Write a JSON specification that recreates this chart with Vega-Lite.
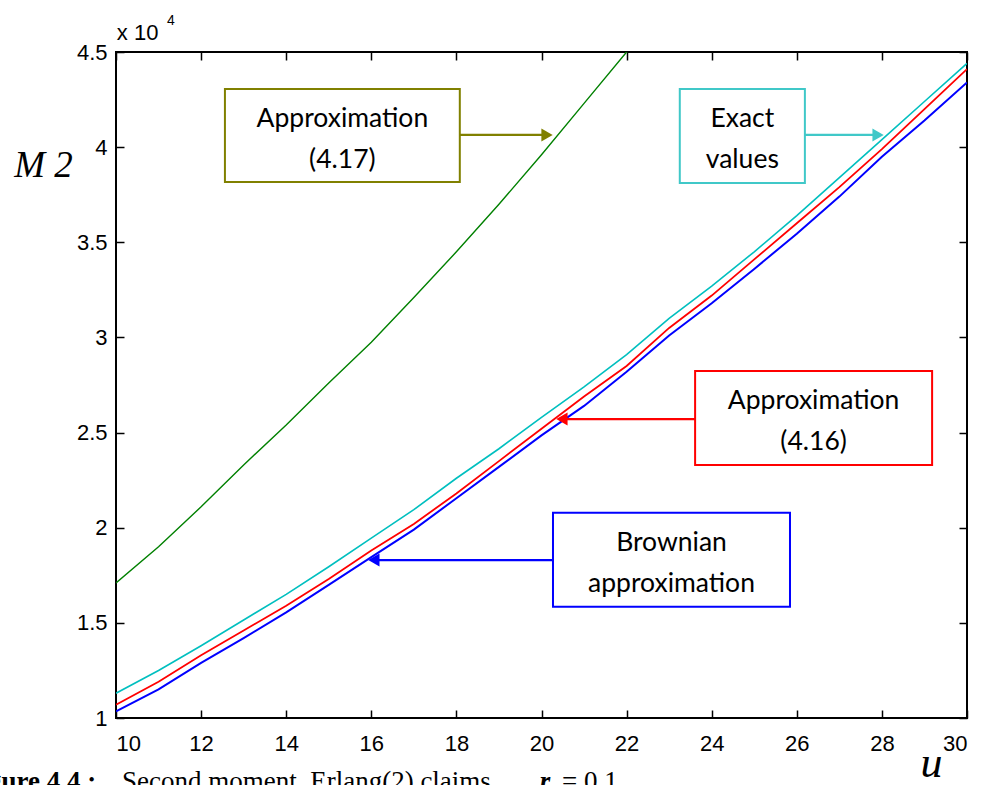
{
  "$schema": "https://vega.github.io/schema/vega-lite/v6.json",
  "width": 851,
  "height": 666,
  "autosize": {"type": "none"},
  "padding": {"left": 116, "top": 52, "right": 18, "bottom": 67},
  "background": "white",
  "config": {
    "view": {"stroke": "black", "strokeWidth": 2},
    "font": "Liberation Sans",
    "axis": {"grid": false, "domain": false, "tickColor": "black", "tickWidth": 1.5, "labelColor": "black", "labelFont": "Liberation Sans", "labelFontSize": 22}
  },
  "datasets": {
    "curves": [
      {"series": "Approximation (4.17)", "u": 10, "M2": 17100},
      {"series": "Approximation (4.17)", "u": 11, "M2": 19000},
      {"series": "Approximation (4.17)", "u": 12, "M2": 21100},
      {"series": "Approximation (4.17)", "u": 13, "M2": 23300},
      {"series": "Approximation (4.17)", "u": 14, "M2": 25400},
      {"series": "Approximation (4.17)", "u": 15, "M2": 27600},
      {"series": "Approximation (4.17)", "u": 16, "M2": 29750},
      {"series": "Approximation (4.17)", "u": 17, "M2": 32100},
      {"series": "Approximation (4.17)", "u": 18, "M2": 34500},
      {"series": "Approximation (4.17)", "u": 19, "M2": 37000},
      {"series": "Approximation (4.17)", "u": 20, "M2": 39600},
      {"series": "Approximation (4.17)", "u": 21, "M2": 42300},
      {"series": "Approximation (4.17)", "u": 22, "M2": 45000},
      {"series": "Approximation (4.17)", "u": 23, "M2": 47800},
      {"series": "Exact values", "u": 10, "M2": 11300},
      {"series": "Exact values", "u": 11, "M2": 12500},
      {"series": "Exact values", "u": 12, "M2": 13800},
      {"series": "Exact values", "u": 13, "M2": 15150},
      {"series": "Exact values", "u": 14, "M2": 16500},
      {"series": "Exact values", "u": 15, "M2": 17950},
      {"series": "Exact values", "u": 16, "M2": 19450},
      {"series": "Exact values", "u": 17, "M2": 20950},
      {"series": "Exact values", "u": 18, "M2": 22600},
      {"series": "Exact values", "u": 19, "M2": 24150},
      {"series": "Exact values", "u": 20, "M2": 25800},
      {"series": "Exact values", "u": 21, "M2": 27400},
      {"series": "Exact values", "u": 22, "M2": 29100},
      {"series": "Exact values", "u": 23, "M2": 31000},
      {"series": "Exact values", "u": 24, "M2": 32700},
      {"series": "Exact values", "u": 25, "M2": 34500},
      {"series": "Exact values", "u": 26, "M2": 36400},
      {"series": "Exact values", "u": 27, "M2": 38400},
      {"series": "Exact values", "u": 28, "M2": 40400},
      {"series": "Exact values", "u": 29, "M2": 42400},
      {"series": "Exact values", "u": 30, "M2": 44400},
      {"series": "Approximation (4.16)", "u": 10, "M2": 10700},
      {"series": "Approximation (4.16)", "u": 11, "M2": 11900},
      {"series": "Approximation (4.16)", "u": 12, "M2": 13300},
      {"series": "Approximation (4.16)", "u": 13, "M2": 14600},
      {"series": "Approximation (4.16)", "u": 14, "M2": 15900},
      {"series": "Approximation (4.16)", "u": 15, "M2": 17300},
      {"series": "Approximation (4.16)", "u": 16, "M2": 18800},
      {"series": "Approximation (4.16)", "u": 17, "M2": 20200},
      {"series": "Approximation (4.16)", "u": 18, "M2": 21800},
      {"series": "Approximation (4.16)", "u": 19, "M2": 23500},
      {"series": "Approximation (4.16)", "u": 20, "M2": 25200},
      {"series": "Approximation (4.16)", "u": 21, "M2": 26900},
      {"series": "Approximation (4.16)", "u": 22, "M2": 28500},
      {"series": "Approximation (4.16)", "u": 23, "M2": 30500},
      {"series": "Approximation (4.16)", "u": 24, "M2": 32200},
      {"series": "Approximation (4.16)", "u": 25, "M2": 34100},
      {"series": "Approximation (4.16)", "u": 26, "M2": 36000},
      {"series": "Approximation (4.16)", "u": 27, "M2": 37900},
      {"series": "Approximation (4.16)", "u": 28, "M2": 39900},
      {"series": "Approximation (4.16)", "u": 29, "M2": 42000},
      {"series": "Approximation (4.16)", "u": 30, "M2": 44100},
      {"series": "Brownian approximation", "u": 10, "M2": 10350},
      {"series": "Brownian approximation", "u": 11, "M2": 11500},
      {"series": "Brownian approximation", "u": 12, "M2": 12900},
      {"series": "Brownian approximation", "u": 13, "M2": 14200},
      {"series": "Brownian approximation", "u": 14, "M2": 15550},
      {"series": "Brownian approximation", "u": 15, "M2": 17000},
      {"series": "Brownian approximation", "u": 16, "M2": 18450},
      {"series": "Brownian approximation", "u": 17, "M2": 19900},
      {"series": "Brownian approximation", "u": 18, "M2": 21550},
      {"series": "Brownian approximation", "u": 19, "M2": 23200},
      {"series": "Brownian approximation", "u": 20, "M2": 24850},
      {"series": "Brownian approximation", "u": 21, "M2": 26400},
      {"series": "Brownian approximation", "u": 22, "M2": 28200},
      {"series": "Brownian approximation", "u": 23, "M2": 30100},
      {"series": "Brownian approximation", "u": 24, "M2": 31800},
      {"series": "Brownian approximation", "u": 25, "M2": 33600},
      {"series": "Brownian approximation", "u": 26, "M2": 35450},
      {"series": "Brownian approximation", "u": 27, "M2": 37400},
      {"series": "Brownian approximation", "u": 28, "M2": 39500},
      {"series": "Brownian approximation", "u": 29, "M2": 41400},
      {"series": "Brownian approximation", "u": 30, "M2": 43400}
    ],
    "notes": [
      {"note": "Approximation (4.17)", "text": "Approximation\n(4.17)", "x1": 12.56, "x2": 18.08, "xc": 15.32, "top": 43060, "bottom": 38170, "ty": 41480, "ay": 40640, "tip": 20.13, "dir": "right"},
      {"note": "Exact values", "text": "Exact\nvalues", "x1": 23.25, "x2": 26.19, "xc": 24.72, "top": 43060, "bottom": 38120, "ty": 41480, "ay": 40640, "tip": 27.91, "dir": "right"},
      {"note": "Approximation (4.16)", "text": "Approximation\n(4.16)", "x1": 23.61, "x2": 29.18, "xc": 26.395, "top": 28240, "bottom": 23300, "ty": 26660, "ay": 25710, "tip": 20.48, "dir": "left"},
      {"note": "Brownian approximation", "text": "Brownian\napproximation", "x1": 20.27, "x2": 25.84, "xc": 23.055, "top": 20780, "bottom": 15840, "ty": 19200, "ay": 18300, "tip": 16.06, "dir": "left"}
    ]
  },
  "resolve": {"axis": {"x": "independent", "y": "independent"}, "scale": {"color": "independent"}},
  "layer": [
    {
      "data": {"name": "curves"},
      "mark": {"type": "line", "clip": true},
      "encoding": {
        "x": {"field": "u", "type": "quantitative", "scale": {"domain": [10, 30], "nice": false, "zero": false},
          "axis": {"orient": "bottom", "values": [10, 12, 14, 16, 18, 20, 22, 24, 26, 28, 30], "tickSize": -8, "labelPadding": 23, "labelFontSize": 22, "labelFont": "Liberation Sans",
            "title": "u", "titleFont": "Liberation Serif", "titleFontStyle": "italic", "titleFontWeight": "normal", "titleFontSize": 44, "titleColor": "black",
            "titleAngle": 0, "titleX": 815, "titleY": 58, "titleBaseline": "alphabetic", "titleAlign": "center"}},
        "y": {"field": "M2", "type": "quantitative", "scale": {"domain": [10000, 45000], "nice": false, "zero": false},
          "axis": {"orient": "left", "values": [10000, 15000, 20000, 25000, 30000, 35000, 40000, 45000], "tickSize": -8, "labelPadding": 17, "labelFontSize": 22, "labelFont": "Liberation Sans",
            "labelExpr": "'' + datum.value / 10000",
            "title": "M 2", "titleFont": "Liberation Serif", "titleFontStyle": "italic", "titleFontWeight": "normal", "titleFontSize": 37, "titleColor": "black",
            "titleAngle": 0, "titleX": -73, "titleY": 113, "titleBaseline": "middle", "titleAlign": "center"}},
        "color": {"field": "series", "type": "nominal", "legend": null,
          "scale": {"domain": ["Approximation (4.17)", "Exact values", "Approximation (4.16)", "Brownian approximation"], "range": ["#008000", "#00BFBF", "#FF0000", "#0000FF"]}},
        "strokeWidth": {"field": "series", "type": "nominal", "legend": null,
          "scale": {"domain": ["Approximation (4.17)", "Exact values", "Approximation (4.16)", "Brownian approximation"], "range": [1.4, 2, 2, 2]}}
      }
    },
    {
      "data": {"name": "curves"},
      "mark": {"type": "point", "opacity": 0},
      "encoding": {
        "x": {"field": "u", "type": "quantitative", "axis": {"orient": "top", "values": [10, 12, 14, 16, 18, 20, 22, 24, 26, 28, 30], "tickSize": -8, "labels": false, "title": null}},
        "y": {"field": "M2", "type": "quantitative", "axis": {"orient": "right", "values": [10000, 15000, 20000, 25000, 30000, 35000, 40000, 45000], "tickSize": -8, "labels": false, "title": null}}
      }
    },
    {
      "data": {"name": "notes"},
      "mark": {"type": "rule", "strokeWidth": 2.2},
      "encoding": {
        "x": {"field": "x1", "type": "quantitative", "axis": null},
        "x2": {"field": "tip"},
        "y": {"field": "ay", "type": "quantitative", "axis": null},
        "color": {"field": "note", "type": "nominal", "legend": null,
          "scale": {"domain": ["Approximation (4.17)", "Exact values", "Approximation (4.16)", "Brownian approximation"], "range": ["#808000", "#40C8C8", "#FF0000", "#0000FF"]}}
      }
    },
    {
      "data": {"name": "notes"},
      "mark": {"type": "point", "filled": true, "opacity": 1, "size": 170},
      "encoding": {
        "x": {"field": "tip", "type": "quantitative", "axis": null},
        "y": {"field": "ay", "type": "quantitative", "axis": null},
        "shape": {"field": "dir", "type": "nominal", "legend": null, "scale": {"domain": ["right", "left"], "range": ["triangle-right", "triangle-left"]}},
        "color": {"field": "note", "type": "nominal", "legend": null,
          "scale": {"domain": ["Approximation (4.17)", "Exact values", "Approximation (4.16)", "Brownian approximation"], "range": ["#808000", "#40C8C8", "#FF0000", "#0000FF"]}}
      }
    },
    {
      "data": {"name": "notes"},
      "mark": {"type": "rect", "fill": "white", "strokeWidth": 2},
      "encoding": {
        "x": {"field": "x1", "type": "quantitative", "axis": null},
        "x2": {"field": "x2"},
        "y": {"field": "top", "type": "quantitative", "axis": null},
        "y2": {"field": "bottom"},
        "stroke": {"field": "note", "type": "nominal", "legend": null,
          "scale": {"domain": ["Approximation (4.17)", "Exact values", "Approximation (4.16)", "Brownian approximation"], "range": ["#808000", "#40C8C8", "#FF0000", "#0000FF"]}}
      }
    },
    {
      "data": {"name": "notes"},
      "mark": {"type": "text", "font": "Lato", "fontSize": 26.5, "color": "black", "lineBreak": "\n", "lineHeight": 41, "align": "center", "baseline": "middle"},
      "encoding": {
        "x": {"field": "xc", "type": "quantitative", "axis": null},
        "y": {"field": "ty", "type": "quantitative", "axis": null},
        "text": {"field": "text"}
      }
    },
    {
      "data": {"values": [{"u": 10.02, "M2": 45630, "t": "x 10"}]},
      "mark": {"type": "text", "clip": false, "font": "Liberation Sans", "fontSize": 22, "align": "left", "baseline": "alphabetic", "color": "black"},
      "encoding": {
        "x": {"field": "u", "type": "quantitative", "axis": null},
        "y": {"field": "M2", "type": "quantitative", "axis": null},
        "text": {"field": "t"}
      }
    },
    {
      "data": {"values": [{"u": 11.2, "M2": 46400, "t": "4"}]},
      "mark": {"type": "text", "clip": false, "font": "Liberation Sans", "fontSize": 14, "align": "left", "baseline": "alphabetic", "color": "black"},
      "encoding": {
        "x": {"field": "u", "type": "quantitative", "axis": null},
        "y": {"field": "M2", "type": "quantitative", "axis": null},
        "text": {"field": "t"}
      }
    },
    {
      "data": {"values": [{"u": 6.43, "M2": 6217, "t": "Figure 4.4 :"}]},
      "mark": {"type": "text", "clip": false, "font": "Liberation Serif", "fontSize": 27, "fontWeight": "bold", "align": "left", "baseline": "alphabetic", "color": "black"},
      "encoding": {
        "x": {"field": "u", "type": "quantitative", "axis": null},
        "y": {"field": "M2", "type": "quantitative", "axis": null},
        "text": {"field": "t"}
      }
    },
    {
      "data": {"values": [{"u": 10.14, "M2": 6217, "t": "Second moment, Erlang(2) claims,"}]},
      "mark": {"type": "text", "clip": false, "font": "Liberation Serif", "fontSize": 27, "align": "left", "baseline": "alphabetic", "color": "black"},
      "encoding": {
        "x": {"field": "u", "type": "quantitative", "axis": null},
        "y": {"field": "M2", "type": "quantitative", "axis": null},
        "text": {"field": "t"}
      }
    },
    {
      "data": {"values": [{"u": 19.96, "M2": 6217, "t": "r"}]},
      "mark": {"type": "text", "clip": false, "font": "Liberation Serif", "fontSize": 27, "fontWeight": "bold", "fontStyle": "italic", "align": "left", "baseline": "alphabetic", "color": "black"},
      "encoding": {
        "x": {"field": "u", "type": "quantitative", "axis": null},
        "y": {"field": "M2", "type": "quantitative", "axis": null},
        "text": {"field": "t"}
      }
    },
    {
      "data": {"values": [{"u": 20.48, "M2": 6217, "t": "= 0.1"}]},
      "mark": {"type": "text", "clip": false, "font": "Liberation Serif", "fontSize": 27, "align": "left", "baseline": "alphabetic", "color": "black"},
      "encoding": {
        "x": {"field": "u", "type": "quantitative", "axis": null},
        "y": {"field": "M2", "type": "quantitative", "axis": null},
        "text": {"field": "t"}
      }
    }
  ]
}
